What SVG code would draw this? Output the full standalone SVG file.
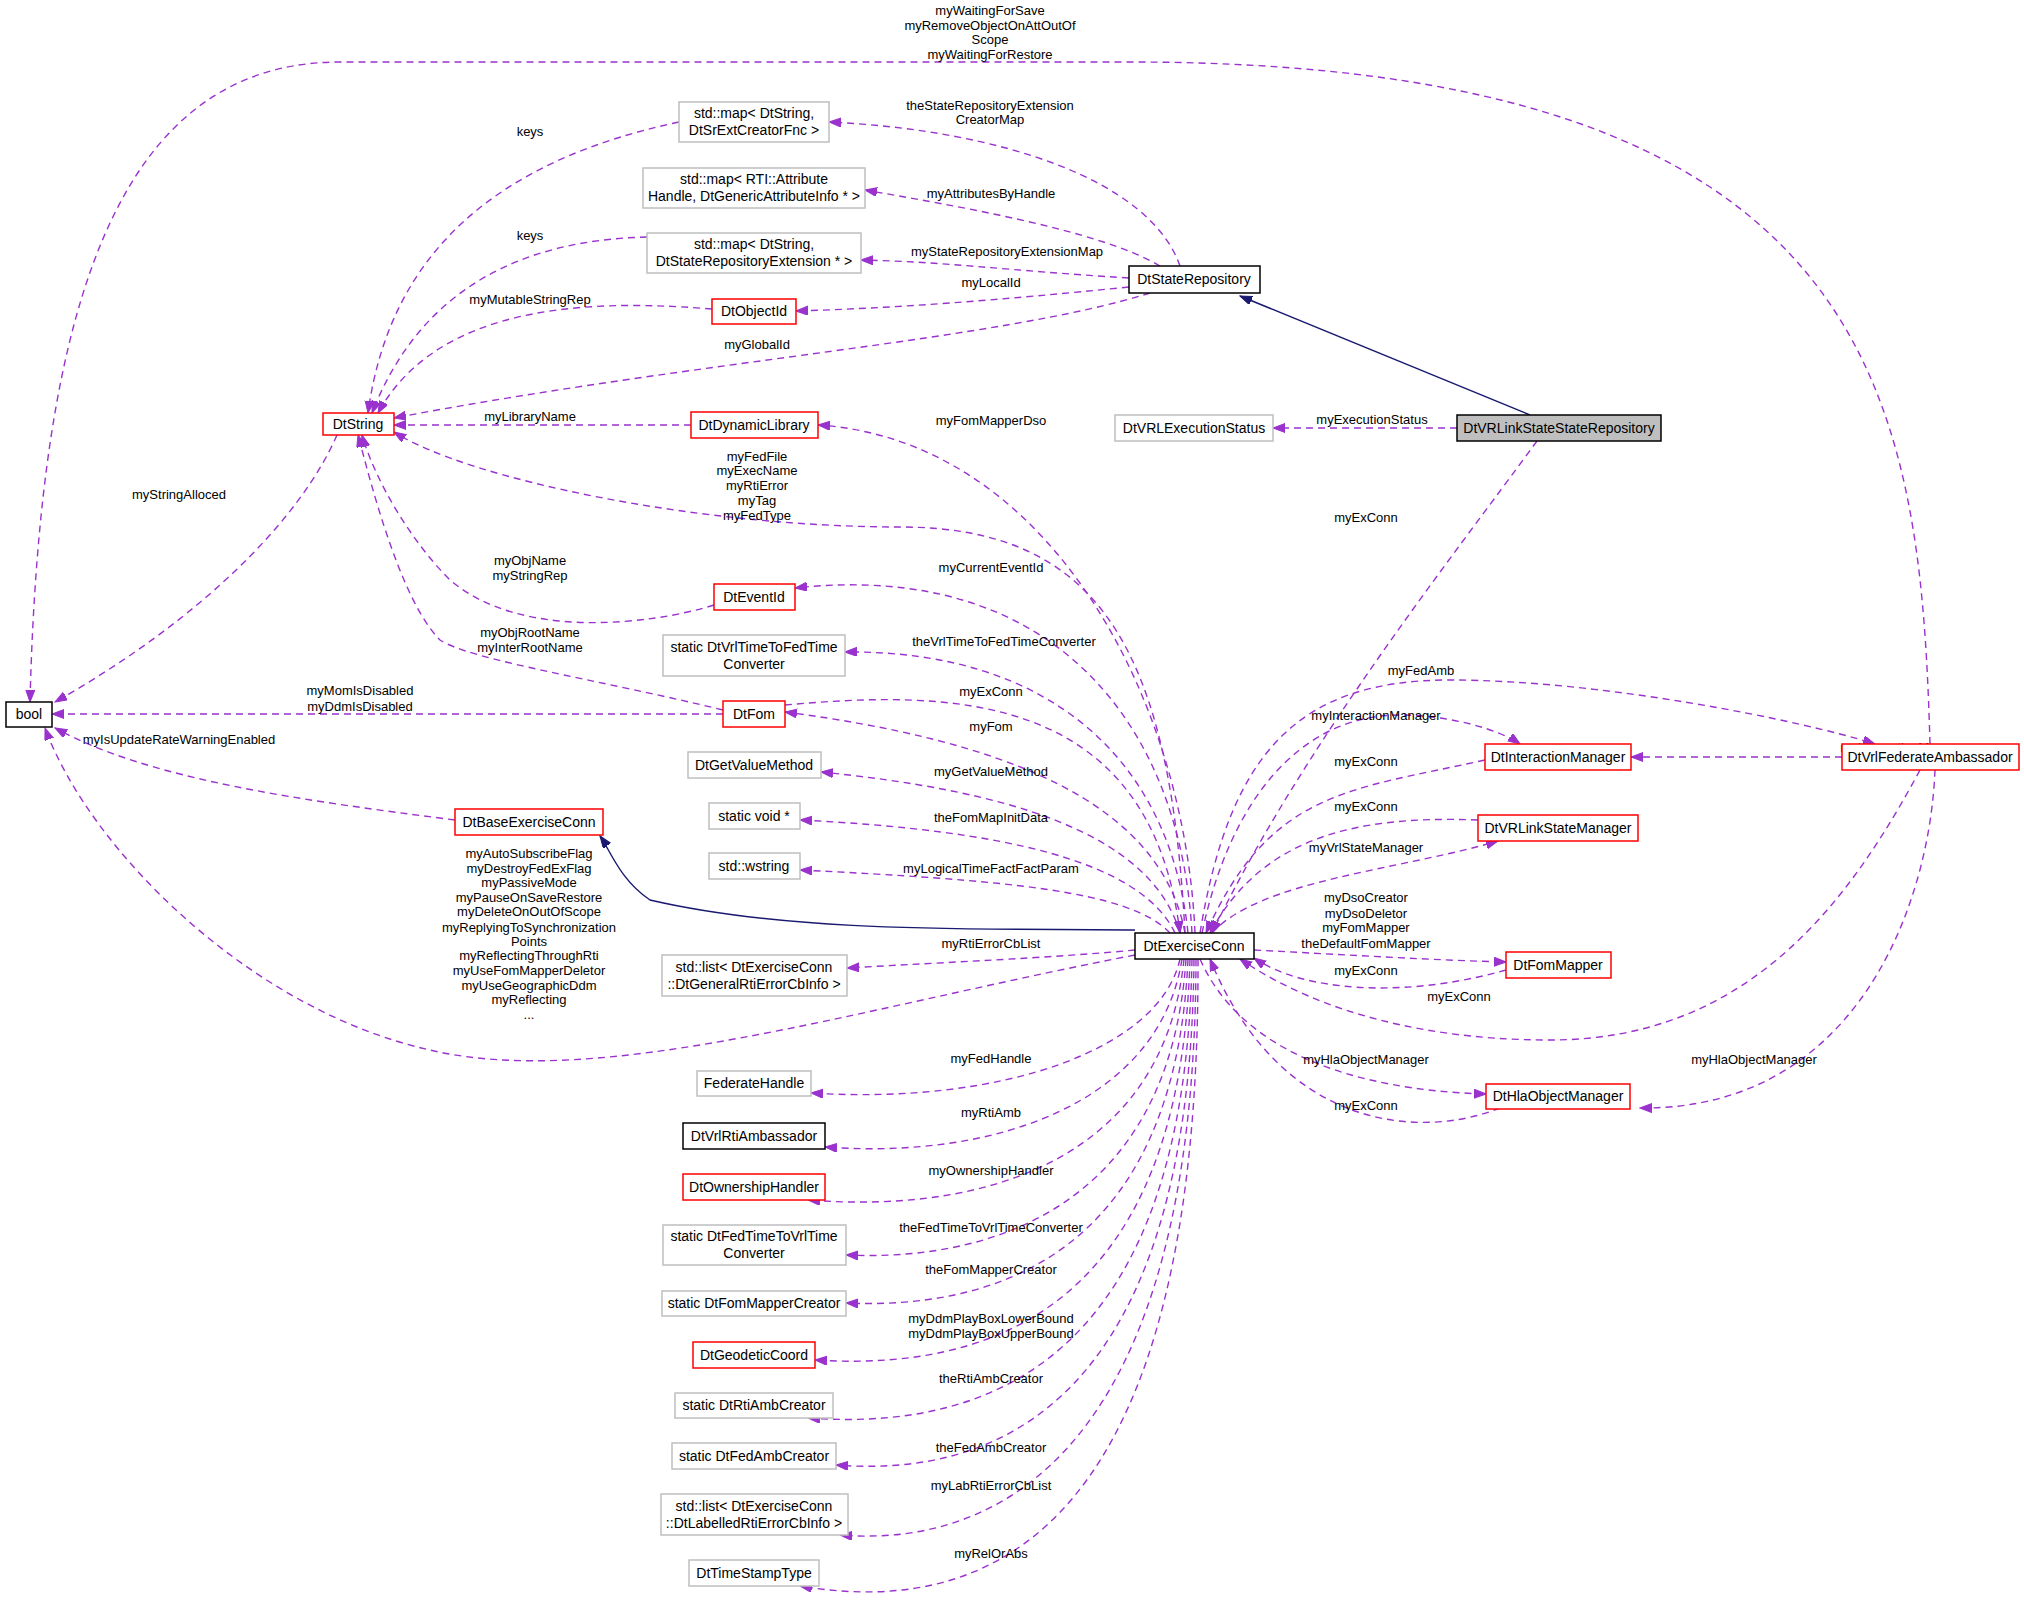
<svg xmlns="http://www.w3.org/2000/svg" width="2024" height="1616" viewBox="0 0 2024 1616">
<defs>
<marker id="ap" markerWidth="13" markerHeight="10" refX="12" refY="4.5" orient="auto" markerUnits="userSpaceOnUse"><path d="M0,0 L12,4.5 L0,9 z" fill="#9a32cd" stroke="#9a32cd"/></marker>
<marker id="an" markerWidth="13" markerHeight="10" refX="12" refY="4.5" orient="auto" markerUnits="userSpaceOnUse"><path d="M0,0 L12,4.5 L0,9 z" fill="#191970" stroke="#191970"/></marker>
</defs>
<style>
text{font-family:"Liberation Sans",Arial,sans-serif;font-size:13px;fill:#000;text-anchor:middle}
.n text{font-size:14px}
rect{fill:#fff;stroke-width:1.5}
.r rect{stroke:#ff0000}.b rect{stroke:#000}.g rect{stroke:#bfbfbf}
.e path{fill:none;stroke:#9a32cd;stroke-width:1.4;stroke-dasharray:7,5;marker-end:url(#ap)}
.e path.i{stroke:#191970;stroke-dasharray:none;marker-end:url(#an)}
</style>
<rect x="0" y="0" width="2024" height="1616" style="fill:#fff;stroke:none"/>
<g class="e" id="edges">
<path d="M1930,744 C1920,400 1880,62 1130,62 L340,62 C120,62 40,300 30,702"/>
<path d="M679,122 C500,160 390,250 368,413"/>
<path d="M647,237 C520,240 420,290 372,413"/>
<path d="M712,309 C600,300 440,300 378,413"/>
<path d="M1150,293 C1000,340 700,360 394,418"/>
<path d="M691,425 L394,425"/>
<path d="M1185,933 C1170,650 1100,527 900,527 C700,527 470,480 394,432"/>
<path d="M714,605 C650,625 520,640 450,580 C410,540 375,480 362,435"/>
<path d="M723,710 C600,680 470,660 440,640 C400,600 370,480 358,435"/>
<path d="M337,435 C300,520 200,620 55,702"/>
<path d="M723,714 L52,714"/>
<path d="M455,820 C300,800 150,780 55,728"/>
<path d="M1135,955 C850,1010 600,1090 430,1050 C250,1010 90,850 45,728"/>
<path class="i" d="M1135,930 C1000,928 800,935 650,900 C620,880 610,850 600,836"/>
<path class="i" d="M1530,415 L1240,296"/>
<path d="M1457,428 L1273,428"/>
<path d="M1180,266 C1150,180 1000,130 829,122"/>
<path d="M1160,266 C1100,230 950,205 865,190"/>
<path d="M1129,278 C1000,270 950,262 861,260"/>
<path d="M1129,287 C1000,300 900,308 796,311"/>
<path d="M1537,441 C1450,560 1300,750 1212,933"/>
<path d="M1195,933 C1185,700 1050,440 818,425"/>
<path d="M1192,933 C1180,720 1050,560 795,588"/>
<path d="M1188,933 C1170,760 1050,650 845,652"/>
<path d="M785,705 C950,690 1150,690 1180,933"/>
<path d="M1185,933 C1160,800 1000,740 785,712"/>
<path d="M1180,933 C1150,830 1000,790 821,772"/>
<path d="M1175,933 C1140,860 1000,830 800,820"/>
<path d="M1170,933 C1130,890 1000,880 800,870"/>
<path d="M1135,950 C1050,958 950,962 847,968"/>
<path d="M1180,959 C1160,1050 1000,1105 811,1093"/>
<path d="M1182,959 C1160,1100 1000,1160 825,1147"/>
<path d="M1184,959 C1165,1150 1000,1215 808,1200"/>
<path d="M1186,959 C1170,1200 1000,1262 846,1255"/>
<path d="M1188,959 C1175,1250 1000,1310 846,1303"/>
<path d="M1190,959 C1180,1300 1000,1372 815,1360"/>
<path d="M1192,959 C1185,1350 1000,1432 808,1418"/>
<path d="M1194,959 C1190,1400 1000,1478 836,1465"/>
<path d="M1196,959 C1195,1450 1000,1548 840,1535"/>
<path d="M1198,959 C1200,1520 1000,1620 800,1586"/>
<path d="M1200,933 C1230,750 1300,680 1450,680 C1600,680 1800,720 1875,744"/>
<path d="M1202,933 C1230,800 1300,715 1400,715 C1450,715 1500,730 1520,744"/>
<path d="M1485,760 C1350,790 1270,790 1206,933"/>
<path d="M1842,757 L1631,757"/>
<path d="M1478,820 C1350,815 1260,840 1210,933"/>
<path d="M1212,933 C1260,880 1400,870 1498,841"/>
<path d="M1254,950 C1350,955 1430,960 1506,962"/>
<path d="M1506,970 C1400,1000 1300,990 1254,958"/>
<path d="M1920,770 C1850,900 1750,1040 1550,1040 C1400,1040 1300,1000 1240,959"/>
<path d="M1200,959 C1240,1050 1350,1090 1486,1094"/>
<path d="M1500,1108 C1420,1140 1280,1130 1210,959"/>
<path d="M1935,770 C1930,900 1860,1110 1640,1108"/>
</g>
<g id="labels">
<text x="990" y="15">myWaitingForSave</text><text x="990" y="30">myRemoveObjectOnAttOutOf</text><text x="990" y="44">Scope</text><text x="990" y="59">myWaitingForRestore</text>
<text x="530" y="136">keys</text><text x="530" y="240">keys</text><text x="530" y="304">myMutableStringRep</text>
<text x="757" y="349">myGlobalId</text><text x="530" y="421">myLibraryName</text>
<text x="757" y="461">myFedFile</text><text x="757" y="475">myExecName</text><text x="757" y="490">myRtiError</text><text x="757" y="505">myTag</text><text x="757" y="520">myFedType</text>
<text x="530" y="565">myObjName</text><text x="530" y="580">myStringRep</text>
<text x="530" y="637">myObjRootName</text><text x="530" y="652">myInterRootName</text>
<text x="179" y="499">myStringAlloced</text>
<text x="360" y="695">myMomIsDisabled</text><text x="360" y="711">myDdmIsDisabled</text>
<text x="179" y="744">myIsUpdateRateWarningEnabled</text>
<text x="529" y="858">myAutoSubscribeFlag</text><text x="529" y="873">myDestroyFedExFlag</text><text x="529" y="887">myPassiveMode</text><text x="529" y="902">myPauseOnSaveRestore</text><text x="529" y="916">myDeleteOnOutOfScope</text><text x="529" y="932">myReplyingToSynchronization</text><text x="529" y="946">Points</text><text x="529" y="960">myReflectingThroughRti</text><text x="529" y="975">myUseFomMapperDeletor</text><text x="529" y="990">myUseGeographicDdm</text><text x="529" y="1004">myReflecting</text><text x="529" y="1019">...</text>
<text x="990" y="110">theStateRepositoryExtension</text><text x="990" y="124">CreatorMap</text>
<text x="991" y="198">myAttributesByHandle</text><text x="1007" y="256">myStateRepositoryExtensionMap</text><text x="991" y="287">myLocalId</text>
<text x="1372" y="424">myExecutionStatus</text><text x="1366" y="522">myExConn</text>
<text x="991" y="425">myFomMapperDso</text><text x="991" y="572">myCurrentEventId</text><text x="1004" y="646">theVrlTimeToFedTimeConverter</text>
<text x="991" y="696">myExConn</text><text x="991" y="731">myFom</text><text x="991" y="776">myGetValueMethod</text><text x="991" y="822">theFomMapInitData</text><text x="991" y="873">myLogicalTimeFactFactParam</text><text x="991" y="948">myRtiErrorCbList</text>
<text x="991" y="1063">myFedHandle</text><text x="991" y="1117">myRtiAmb</text><text x="991" y="1175">myOwnershipHandler</text><text x="991" y="1232">theFedTimeToVrlTimeConverter</text><text x="991" y="1274">theFomMapperCreator</text>
<text x="991" y="1323">myDdmPlayBoxLowerBound</text><text x="991" y="1338">myDdmPlayBoxUpperBound</text>
<text x="991" y="1383">theRtiAmbCreator</text><text x="991" y="1452">theFedAmbCreator</text><text x="991" y="1490">myLabRtiErrorCbList</text><text x="991" y="1558">myRelOrAbs</text>
<text x="1421" y="675">myFedAmb</text><text x="1376" y="720">myInteractionManager</text><text x="1366" y="766">myExConn</text><text x="1905" y="752">myInteractionManager</text>
<text x="1366" y="811">myExConn</text><text x="1366" y="852">myVrlStateManager</text>
<text x="1366" y="902">myDsoCreator</text><text x="1366" y="918">myDsoDeletor</text><text x="1366" y="932">myFomMapper</text><text x="1366" y="948">theDefaultFomMapper</text>
<text x="1366" y="975">myExConn</text><text x="1459" y="1001">myExConn</text><text x="1366" y="1064">myHlaObjectManager</text><text x="1366" y="1110">myExConn</text><text x="1754" y="1064">myHlaObjectManager</text>
</g>
<g id="bool" class="n b"><rect x="6" y="702" width="46" height="25"/><text x="29" y="719">bool</text></g>
<g id="DtString" class="n r"><rect x="323" y="413" width="71" height="22"/><text x="358" y="429">DtString</text></g>
<g id="mapSrExt" class="n g"><rect x="679" y="102" width="150" height="40"/><text x="754" y="118">std::map&lt; DtString,</text><text x="754" y="135">DtSrExtCreatorFnc &gt;</text></g>
<g id="mapAttr" class="n g"><rect x="643" y="168" width="222" height="40"/><text x="754" y="184">std::map&lt; RTI::Attribute</text><text x="754" y="201">Handle, DtGenericAttributeInfo * &gt;</text></g>
<g id="mapExt" class="n g"><rect x="647" y="233" width="214" height="40"/><text x="754" y="249">std::map&lt; DtString,</text><text x="754" y="266">DtStateRepositoryExtension * &gt;</text></g>
<g id="DtObjectId" class="n r"><rect x="712" y="299" width="84" height="25"/><text x="754" y="316">DtObjectId</text></g>
<g id="DtDynamicLibrary" class="n r"><rect x="691" y="412" width="127" height="26"/><text x="754" y="430">DtDynamicLibrary</text></g>
<g id="DtStateRepository" class="n b"><rect x="1129" y="266" width="131" height="27"/><text x="1194" y="284">DtStateRepository</text></g>
<g id="DtVRLExecutionStatus" class="n g"><rect x="1115" y="415" width="158" height="26"/><text x="1194" y="433">DtVRLExecutionStatus</text></g>
<g id="DtVRLinkStateStateRepository" class="n b"><rect x="1457" y="415" width="204" height="26" style="fill:#bfbfbf"/><text x="1559" y="433">DtVRLinkStateStateRepository</text></g>
<g id="DtEventId" class="n r"><rect x="714" y="584" width="81" height="26"/><text x="754" y="602">DtEventId</text></g>
<g id="VrlToFed" class="n g"><rect x="663" y="635" width="182" height="41"/><text x="754" y="652">static DtVrlTimeToFedTime</text><text x="754" y="669">Converter</text></g>
<g id="DtFom" class="n r"><rect x="723" y="701" width="62" height="26"/><text x="754" y="719">DtFom</text></g>
<g id="DtGetValueMethod" class="n g"><rect x="688" y="752" width="133" height="26"/><text x="754" y="770">DtGetValueMethod</text></g>
<g id="staticVoid" class="n g"><rect x="709" y="803" width="91" height="26"/><text x="754" y="821">static void *</text></g>
<g id="wstring" class="n g"><rect x="709" y="853" width="91" height="26"/><text x="754" y="871">std::wstring</text></g>
<g id="DtBaseExerciseConn" class="n r"><rect x="455" y="809" width="148" height="26"/><text x="529" y="827">DtBaseExerciseConn</text></g>
<g id="listGeneral" class="n g"><rect x="662" y="955" width="185" height="41"/><text x="754" y="972">std::list&lt; DtExerciseConn</text><text x="754" y="989">::DtGeneralRtiErrorCbInfo &gt;</text></g>
<g id="DtExerciseConn" class="n b"><rect x="1135" y="933" width="119" height="26"/><text x="1194" y="951">DtExerciseConn</text></g>
<g id="DtInteractionManager" class="n r"><rect x="1485" y="744" width="146" height="26"/><text x="1558" y="762">DtInteractionManager</text></g>
<g id="DtVrlFederateAmbassador" class="n r"><rect x="1842" y="744" width="177" height="26"/><text x="1930" y="762">DtVrlFederateAmbassador</text></g>
<g id="DtVRLinkStateManager" class="n r"><rect x="1478" y="815" width="160" height="26"/><text x="1558" y="833">DtVRLinkStateManager</text></g>
<g id="DtFomMapper" class="n r"><rect x="1506" y="952" width="105" height="26"/><text x="1558" y="970">DtFomMapper</text></g>
<g id="DtHlaObjectManager" class="n r"><rect x="1486" y="1084" width="144" height="25"/><text x="1558" y="1101">DtHlaObjectManager</text></g>
<g id="FederateHandle" class="n g"><rect x="697" y="1071" width="114" height="25"/><text x="754" y="1088">FederateHandle</text></g>
<g id="DtVrlRtiAmbassador" class="n b"><rect x="683" y="1123" width="142" height="26"/><text x="754" y="1141">DtVrlRtiAmbassador</text></g>
<g id="DtOwnershipHandler" class="n r"><rect x="683" y="1174" width="142" height="26"/><text x="754" y="1192">DtOwnershipHandler</text></g>
<g id="FedToVrl" class="n g"><rect x="663" y="1225" width="183" height="40"/><text x="754" y="1241">static DtFedTimeToVrlTime</text><text x="754" y="1258">Converter</text></g>
<g id="FomMapperCreator" class="n g"><rect x="662" y="1291" width="184" height="25"/><text x="754" y="1308">static DtFomMapperCreator</text></g>
<g id="DtGeodeticCoord" class="n r"><rect x="693" y="1342" width="122" height="26"/><text x="754" y="1360">DtGeodeticCoord</text></g>
<g id="RtiAmbCreator" class="n g"><rect x="675" y="1393" width="158" height="25"/><text x="754" y="1410">static DtRtiAmbCreator</text></g>
<g id="FedAmbCreator" class="n g"><rect x="672" y="1443" width="164" height="26"/><text x="754" y="1461">static DtFedAmbCreator</text></g>
<g id="listLabelled" class="n g"><rect x="661" y="1494" width="187" height="41"/><text x="754" y="1511">std::list&lt; DtExerciseConn</text><text x="754" y="1528">::DtLabelledRtiErrorCbInfo &gt;</text></g>
<g id="DtTimeStampType" class="n g"><rect x="689" y="1560" width="130" height="26"/><text x="754" y="1578">DtTimeStampType</text></g>
</svg>
